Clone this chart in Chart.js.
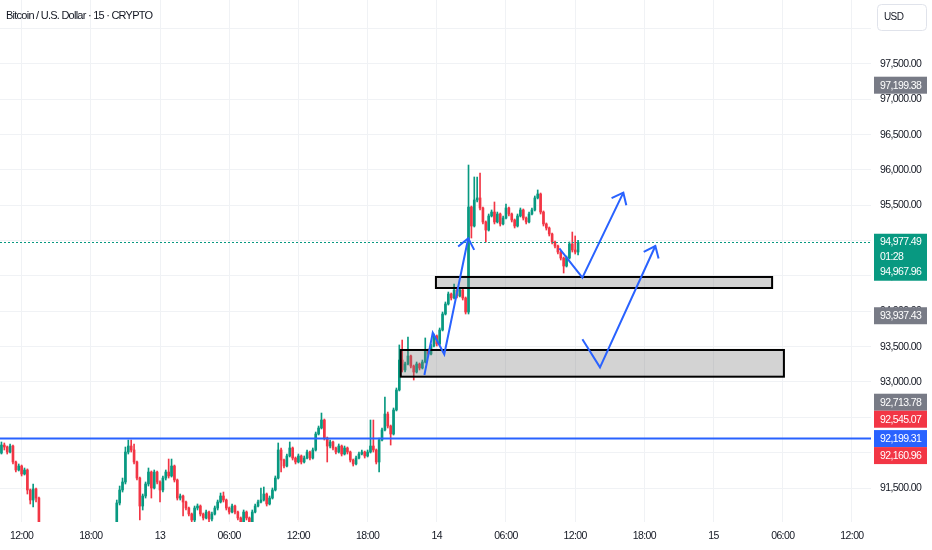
<!DOCTYPE html>
<html>
<head>
<meta charset="utf-8">
<script src="https://cdn.jsdelivr.net/npm/chart.js@4.4.1/dist/chart.umd.min.js"></script>
<style>
  html, body { margin: 0; padding: 0; background: #fff; overflow: hidden; }
  #wrap { width: 932px; height: 550px; }
</style>
</head>
<body>
<div id="wrap"><canvas id="chart" width="932" height="550"></canvas></div>
<script>
// BTC/USD 15m candles, one entry per slot (slot 0 = first candle on the left)
const firstOpen = 91995;
const closes = [
  92108, 92080, 92009, 92094, 91868, 91755, 91811, 91698, 91755, 91472,
  91330, 91486, 91358, 90976, 90850, 90780, 90700, 90640, 90600, 90560,
  90520, 90480, 90500, 90450, 90420, 90380, 90400, 90430, 90480, 90520,
  90560, 90600, 90650, 90700, 90740, 90790, 90820, 90860, 90880, 90920,
  91288, 91472, 91585, 92009, 92094, 92038, 91868, 91641, 91245, 91387,
  91557, 91726, 91500, 91726, 91585, 91472, 91641, 91726, 91670, 91811,
  91613, 91358, 91387, 91302, 91217, 91132, 91047, 91217, 91245, 91132,
  91076, 91160, 91061, 91132, 91217, 91302, 91387, 91330, 91217, 91160,
  91245, 91160, 91076, 91019, 91160, 91076, 91019, 91160, 91245, 91302,
  91330, 91415, 91274, 91358, 91472, 91641, 92038, 91896, 91811, 91953,
  92066, 91924, 91868, 91953, 91868, 91924, 92009, 91924, 92038, 92264,
  92349, 92462, 92207, 92094, 92151, 92066, 92009, 92094, 91981, 92066,
  92009, 91896, 91840, 91924, 91981, 92009, 91953, 92009, 92094, 92038,
  91868, 92179, 92321, 92547, 92377, 92264, 92604, 92887, 93311, 93170,
  93255, 93368, 93226, 93141, 93255, 93198, 93283, 93453, 93396, 93509,
  93651, 93538, 93736, 93962, 94104, 94245, 94189, 94302, 94217, 94302,
  94189, 93990, 95476, 95207, 95575, 95604, 95462, 95264, 95150, 95349,
  95405, 95264, 95377, 95236, 95320, 95462, 95377, 95292, 95207, 95349,
  95434, 95320, 95264, 95377, 95434, 95604, 95660, 95405, 95236, 95179,
  95094, 94981, 94924, 94839, 94754, 94641, 94754, 94953, 94868, 94839,
  94977.49
];
const highs = [
  92151, 92137, 92094, 92123, 92108, 91882, 91840, 91825, 91783, 91770,
  91486, 91557, 91500, 91372, 90990, 90870, 90800, 90720, 90660, 90620,
  90580, 90540, 90530, 90520, 90470, 90440, 90420, 90450, 90500, 90540,
  90580, 90620, 90670, 90720, 90760, 90810, 90840, 90880, 90900, 90940,
  91330, 91528, 91641, 92080, 92179, 92179, 92123, 91882, 91655, 91415,
  91585, 91783, 91741, 91755, 91741, 91600, 91670, 91755, 91910, 91910,
  91825, 91627, 91415, 91400, 91316, 91231, 91146, 91245, 91274, 91260,
  91146, 91189, 91175, 91160, 91245, 91330, 91429, 91443, 91344, 91231,
  91274, 91260, 91175, 91090, 91189, 91175, 91090, 91189, 91274, 91330,
  91500, 91514, 91429, 91387, 91500, 91670, 92137, 92066, 91910, 91981,
  92151, 92080, 91939, 91981, 91967, 91953, 92038, 92023, 92066, 92292,
  92377, 92561, 92476, 92221, 92179, 92165, 92080, 92123, 92108, 92094,
  92080, 92023, 91910, 91953, 92009, 92038, 92023, 92038, 92462, 92462,
  92052, 92207, 92349, 92788, 92575, 92391, 92632, 92915, 93524, 93594,
  93283, 93637, 93382, 93240, 93283, 93269, 93311, 93623, 93467, 93538,
  93679, 93665, 93764, 93990, 94132, 94273, 94259, 94387, 94316, 94330,
  94316, 94203, 96070, 95490, 95901, 95901, 95957, 95476, 95278, 95377,
  95434, 95547, 95405, 95391, 95349, 95519, 95476, 95391, 95306, 95377,
  95462, 95448, 95335, 95405, 95462, 95632, 95717, 95674, 95420, 95250,
  95193, 95108, 94995, 94938, 94853, 94768, 94782, 94981, 95122, 95066,
  95005
];
const lows = [
  91981, 92038, 91981, 91995, 91840, 91726, 91741, 91670, 91684, 91415,
  91274, 91231, 91302, 90906, 90820, 90750, 90670, 90610, 90570, 90530,
  90490, 90450, 90460, 90420, 90390, 90350, 90360, 90380, 90410, 90460,
  90500, 90540, 90580, 90630, 90680, 90720, 90770, 90800, 90840, 90860,
  90900, 91260, 91443, 91557, 91981, 92009, 91840, 91613, 91047, 91189,
  91358, 91528, 91358, 91486, 91557, 91302, 91443, 91613, 91641, 91655,
  91585, 91330, 91330, 91104, 91189, 91104, 90962, 91019, 91189, 91104,
  91047, 91061, 90991, 91033, 91118, 91189, 91288, 91302, 91189, 91132,
  91146, 91132, 91047, 90962, 91005, 91047, 90976, 91005, 91146, 91231,
  91288, 91316, 91245, 91260, 91344, 91458, 91627, 91726, 91783, 91797,
  91939, 91896, 91840, 91854, 91840, 91854, 91910, 91896, 91910, 92023,
  92250, 92335, 92179, 91868, 92066, 92038, 91981, 91995, 91953, 91967,
  91981, 91868, 91811, 91825, 91910, 91967, 91924, 91939, 91995, 92009,
  91840, 91726, 92165, 92307, 92349, 92108, 92250, 92590, 92873, 93141,
  93141, 93240, 93198, 93028, 93127, 93170, 93184, 93269, 93368, 93382,
  93495, 93509, 93524, 93722, 93948, 94089, 94160, 94175, 94189, 94203,
  94160, 93962, 93962, 95037, 95193, 95547, 95434, 95236, 94981, 95136,
  95335, 95236, 95250, 95207, 95221, 95306, 95349, 95264, 95179, 95193,
  95335, 95292, 95236, 95250, 95363, 95420, 95590, 95377, 95207, 95150,
  95066, 94953, 94896, 94811, 94726, 94542, 94627, 94740, 94839, 94811,
  94797
];

// time axis
const xTickSlots = [7, 31, 55, 79, 103, 127, 151, 175, 199, 223, 247, 271, 295];
const xTickLabels = ['12:00', '18:00', '13', '06:00', '12:00', '18:00', '14', '06:00', '12:00', '18:00', '15', '06:00', '12:00'];
const yTickValues = [91500, 92000, 92500, 93000, 93500, 94000, 94500, 95000, 95500, 96000, 96500, 97000, 97500, 98000];

// price scale labels
const tagPrices = [97199.38, 93937.43, 92713.78, 92545.07, 92199.31, 92160.96];
const tagColors = ['#787b86', '#787b86', '#787b86', '#f23645', '#2962ff', '#f23645'];
const lastPrice = 94977.49;
const countdown = '01:28';
const bidPrice = 94967.96;
const levelPrice = 92199.31;

// drawings: zones [slotFrom, slotTo, priceTop, priceBottom], arrows as [slot, price] paths
const zones = [
  [150.7, 267.3, 94486, 94330],
  [138.5, 271.4, 93453, 93075]
];
const arrowPaths = [
  [[146.7, 93099], [149.6, 93697], [153.6, 93392], [161.9, 95033]],
  [[193.5, 94892], [201.5, 94476], [215.7, 95679]],
  [[201.5, 93604], [207.6, 93208], [226.8, 94924]]
];

const UP = '#089981';
const DOWN = '#f23645';
const FONT = "'Liberation Sans', Arial, sans-serif";
Chart.defaults.font.family = FONT;

const opens = closes.map((c, i) => i === 0 ? firstOpen : closes[i - 1]);
const candleColors = closes.map((c, i) => c >= opens[i] ? UP : DOWN);
const fmt = v => v.toLocaleString('en-US', { minimumFractionDigits: 2, maximumFractionDigits: 2 });

// tighter text, the original uses a narrow face
const tightText = {
  id: 'tightText',
  beforeDraw(chart) { chart.ctx.letterSpacing = '-0.6px'; }
};

const overlay = {
  id: 'overlay',
  afterDatasetsDraw(chart) {
    const { ctx, chartArea: a, scales: { x, y } } = chart;
    ctx.save();
    ctx.beginPath();
    ctx.rect(a.left, a.top, a.right - a.left, a.bottom - a.top);
    ctx.clip();

    // last price dotted line
    const ly = Math.round(y.getPixelForValue(lastPrice)) + 0.5;
    ctx.strokeStyle = UP;
    ctx.lineWidth = 1;
    ctx.setLineDash([2, 2]);
    ctx.beginPath(); ctx.moveTo(a.left, ly); ctx.lineTo(a.right, ly); ctx.stroke();
    ctx.setLineDash([]);

    // horizontal level
    const hy = y.getPixelForValue(levelPrice);
    ctx.strokeStyle = '#2962ff';
    ctx.lineWidth = 2;
    ctx.beginPath(); ctx.moveTo(a.left, hy); ctx.lineTo(a.right, hy); ctx.stroke();

    // zones
    zones.forEach(z => {
      const x1 = x.getPixelForValue(z[0]), x2 = x.getPixelForValue(z[1]);
      const y1 = y.getPixelForValue(z[2]), y2 = y.getPixelForValue(z[3]);
      ctx.fillStyle = 'rgba(120,120,120,0.33)';
      ctx.fillRect(x1, y1, x2 - x1, y2 - y1);
      ctx.strokeStyle = '#000';
      ctx.lineWidth = 2;
      ctx.strokeRect(x1, y1, x2 - x1, y2 - y1);
    });

    // arrows
    ctx.strokeStyle = '#2962ff';
    ctx.lineWidth = 2;
    arrowPaths.forEach(p => {
      const pts = p.map(q => [x.getPixelForValue(q[0]), y.getPixelForValue(q[1])]);
      ctx.beginPath();
      pts.forEach((q, i) => i ? ctx.lineTo(q[0], q[1]) : ctx.moveTo(q[0], q[1]));
      ctx.stroke();
      const [tx, ty] = pts[pts.length - 1], [px, py] = pts[pts.length - 2];
      const ang = Math.atan2(py - ty, px - tx);
      ctx.beginPath();
      ctx.moveTo(tx + 13 * Math.cos(ang + 0.68), ty + 13 * Math.sin(ang + 0.68));
      ctx.lineTo(tx, ty);
      ctx.lineTo(tx + 13 * Math.cos(ang - 0.68), ty + 13 * Math.sin(ang - 0.68));
      ctx.stroke();
    });
    ctx.restore();
  },
  afterDraw(chart) {
    const { ctx, chartArea: a, scales: { y } } = chart;
    ctx.save();
    ctx.font = '10.5px ' + FONT;
    ctx.textBaseline = 'middle';
    ctx.textAlign = 'left';
    const tx = a.right + 3, tw = 53, th = 17;

    // last price block
    const ly = y.getPixelForValue(lastPrice);
    ctx.fillStyle = UP;
    ctx.fillRect(tx, ly - 8.5, tw, 47);
    ctx.fillStyle = '#fff';
    ctx.fillText(fmt(lastPrice), tx + 6, ly);
    ctx.fillText(countdown, tx + 6, ly + 15);
    ctx.fillText(fmt(bidPrice), tx + 6, ly + 30);

    // other tags, pushed apart where they overlap
    let prev = -1e9;
    tagPrices.forEach((p, i) => {
      const cy = Math.max(y.getPixelForValue(p), prev + th);
      prev = cy;
      ctx.fillStyle = tagColors[i];
      ctx.fillRect(tx, cy - th / 2, tw, th);
      ctx.fillStyle = '#fff';
      ctx.fillText(fmt(p), tx + 6, cy + 0.5);
    });

    // currency box
    ctx.fillStyle = '#fff';
    ctx.fillRect(876, 2, 54, 30);
    ctx.strokeStyle = '#e0e3eb';
    ctx.lineWidth = 1;
    ctx.beginPath();
    ctx.roundRect(877.5, 4.5, 49, 26, 4);
    ctx.stroke();
    ctx.fillStyle = '#131722';
    ctx.font = '10px ' + FONT;
    ctx.fillText('USD', 884, 17.5);

    // title
    ctx.font = '11px ' + FONT;
    ctx.letterSpacing = '-0.75px';
    ctx.fillText('Bitcoin / U.S. Dollar \u00b7 15 \u00b7 CRYPTO', 6, 16);
    ctx.restore();
  }
};

new Chart(document.getElementById('chart'), {
  type: 'bar',
  data: {
    datasets: [
      {
        label: 'wick',
        data: closes.map((c, i) => ({ x: i, y: [lows[i], highs[i]] })),
        backgroundColor: candleColors,
        barThickness: 1,
        grouped: false,
        borderWidth: 0
      },
      {
        label: 'body',
        data: closes.map((c, i) => ({ x: i, y: [Math.min(opens[i], c), Math.max(opens[i], c)] })),
        backgroundColor: candleColors,
        barThickness: 2,
        minBarLength: 1,
        grouped: false,
        borderWidth: 0
      }
    ]
  },
  options: {
    responsive: false,
    animation: false,
    devicePixelRatio: 1,
    layout: { padding: 0 },
    plugins: { legend: { display: false }, tooltip: { enabled: false } },
    scales: {
      x: {
        type: 'linear',
        min: -0.5,
        max: 301.6,
        offset: false,
        grid: { color: '#f0f2f5', drawTicks: false, offset: false },
        border: { display: false },
        afterBuildTicks: s => { s.ticks = xTickSlots.map(v => ({ value: v })); },
        afterFit: s => { s.height = 28; s.paddingLeft = 0; s.paddingRight = 0; },
        ticks: {
          autoSkip: false,
          maxRotation: 0,
          padding: 8,
          color: '#131722',
          font: { size: 10.5 },
          callback: (v, i) => xTickLabels[i]
        }
      },
      y: {
        position: 'right',
        min: 91019,
        max: 98405,
        grid: { color: '#f0f2f5', drawTicks: false },
        border: { display: false },
        afterBuildTicks: s => { s.ticks = yTickValues.map(v => ({ value: v })); },
        afterFit: s => { s.width = 61; s.paddingTop = 0; s.paddingBottom = 0; },
        ticks: {
          padding: 9,
          color: '#131722',
          font: { size: 10.5 },
          callback: v => v > 97500 ? '' : fmt(v)
        }
      }
    }
  },
  plugins: [tightText, overlay]
});
</script>
</body>
</html>
